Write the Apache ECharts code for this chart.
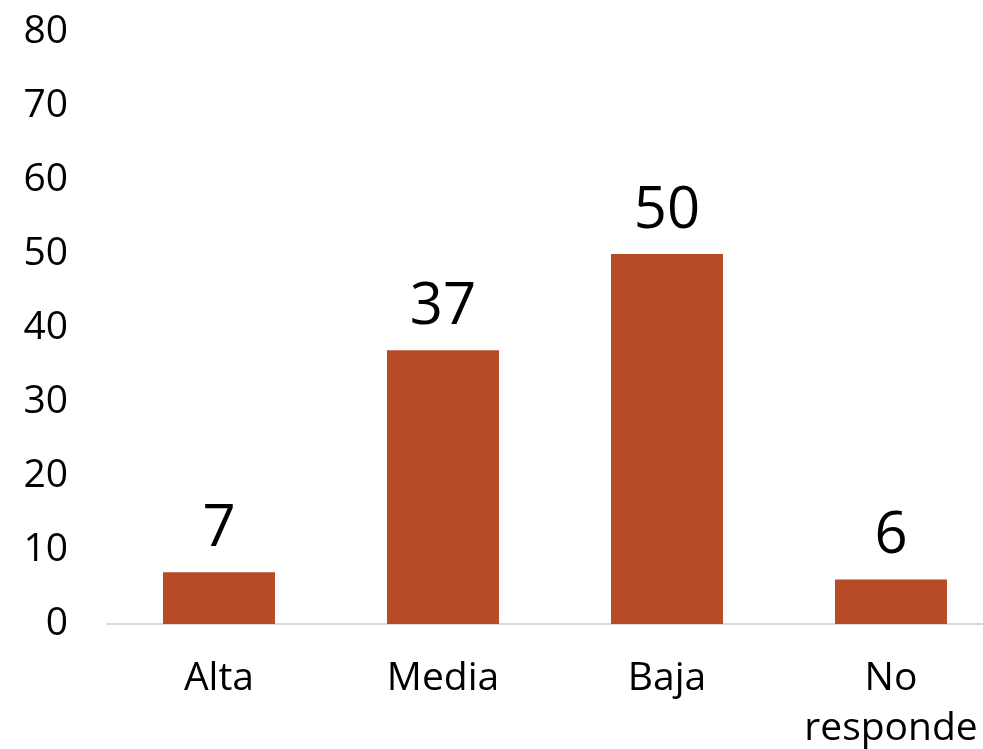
<!DOCTYPE html>
<html>
<head>
<meta charset="utf-8">
<script src="https://cdn.jsdelivr.net/npm/echarts@6/dist/echarts.min.js"></script>
<style>
  html, body { margin: 0; padding: 0; background: #fff; }
  #chart { width: 983px; height: 749px; }
</style>
</head>
<body>
<div id="chart"></div>
<script>
const categories = ["Alta", "Media", "Baja", "No\nresponde"];
const values = [7, 37, 50, 6];
const yTicks = [0, 10, 20, 30, 40, 50, 60, 70, 80];

const font = "'Open Sans', 'Noto Sans', sans-serif";
const chart = echarts.init(document.getElementById("chart"));

chart.setOption({
  animation: false,
  grid: { left: 107, right: -20, top: 32, bottom: 125, outerBoundsMode: "none", containLabel: false },
  xAxis: {
    type: "category",
    data: categories,
    axisLine: { lineStyle: { color: "#d9d9d9", width: 2 } },
    axisTick: { show: false },
    axisLabel: {
      interval: 0,
      color: "#000",
      fontFamily: font,
      fontSize: 39,
      lineHeight: 50,
      margin: 30,
      hideOverlap: false,
    },
  },
  yAxis: {
    type: "value",
    min: yTicks[0],
    max: yTicks[yTicks.length - 1],
    interval: 10,
    splitLine: { show: false },
    axisLine: { show: false },
    axisTick: { show: false },
    axisLabel: {
      color: "#000",
      fontFamily: font,
      fontSize: 39,
      margin: 39,
    },
  },
  series: [
    {
      type: "bar",
      data: values,
      barWidth: "50%",
      itemStyle: { color: "#b54b27" },
      label: {
        show: true,
        position: "top",
        distance: 14,
        color: "#000",
        fontFamily: font,
        fontSize: 58,
      },
    },
  ],
});
</script>
</body>
</html>
